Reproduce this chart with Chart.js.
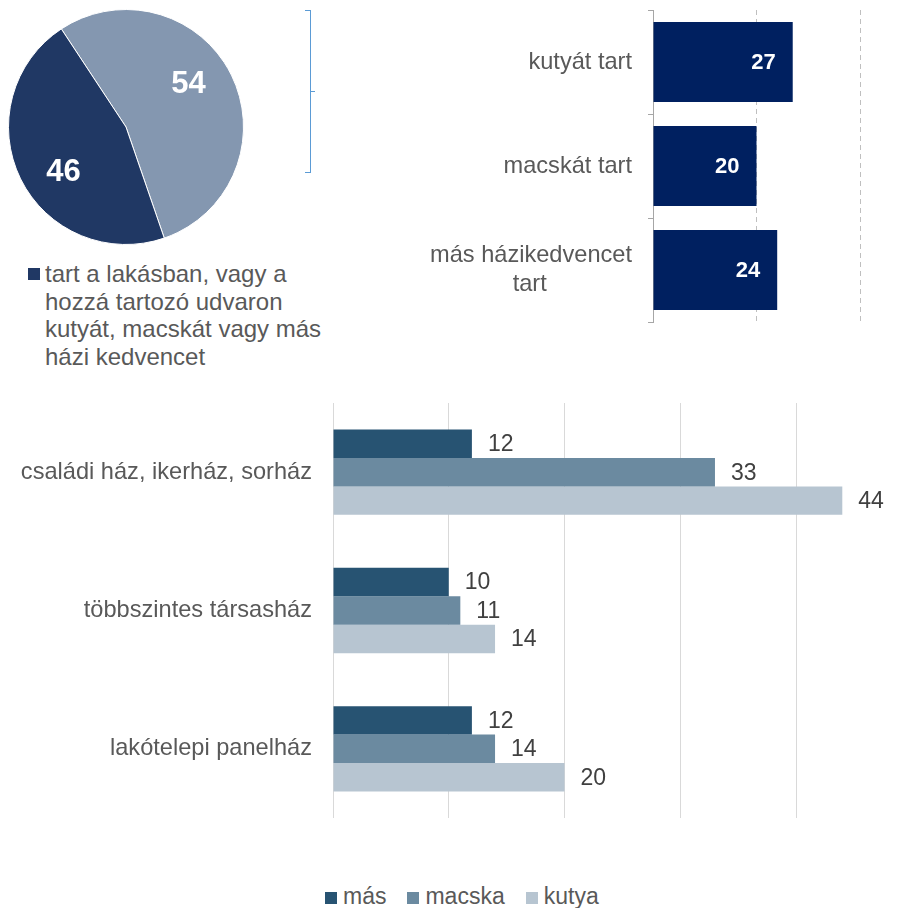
<!DOCTYPE html>
<html lang="hu">
<head>
<meta charset="utf-8">
<title>Háziállat-tartás</title>
<script src="https://cdn.jsdelivr.net/npm/chart.js@4.4.1/dist/chart.umd.min.js"></script>
<style>
  html, body { margin: 0; padding: 0; background: #fff; width: 901px; height: 908px; overflow: hidden; }
  body { position: relative; font-family: 'Liberation Sans', Arial, sans-serif; color: #595959; }
  canvas { position: absolute; }
  .legend { position: absolute; font-size: 23px; line-height: 27.7px; white-space: nowrap; }
  .sq { display: inline-block; width: 12px; height: 12px; }
  .bracket { position: absolute; border-color: #5b9bd5; border-style: solid; border-width: 0; }
</style>
</head>
<body>
<canvas id="pie" width="252" height="254" style="left:0;top:0"></canvas>
<canvas id="pets" width="571" height="330" style="left:330px;top:0"></canvas>
<canvas id="homes" width="901" height="430" style="left:0;top:395px"></canvas>

<!-- zárójel a kör és a sávok között -->
<div class="bracket" style="left:310px;top:10px;height:163px;border-left-width:1.5px"></div>
<div class="bracket" style="left:305px;top:10px;width:5px;border-top-width:1.5px"></div>
<div class="bracket" style="left:305px;top:172px;width:5px;border-top-width:1.5px"></div>
<div class="bracket" style="left:311px;top:91px;width:4px;border-top-width:1.5px"></div>

<div id="pieLegend" class="legend" style="left:28px;top:260px;font-size:24px"></div>
<div id="homeLegend" class="legend" style="left:325px;top:883px;line-height:26px"></div>

<script>
// --- adatok ---
const pieLabels = ['nem tart', 'tart a lakásban, vagy a hozzá tartozó udvaron kutyát, macskát vagy más házi kedvencet'];
const pieValues = [54, 46];
const pieLegendLines = ['tart a lakásban, vagy a', 'hozzá tartozó udvaron', 'kutyát, macskát vagy más', 'házi kedvencet'];

const petLabels = ['kutyát tart', 'macskát tart', ['más házikedvencet', 'tart' + '\u00a0'.repeat(13)]];
const petValues = [27, 20, 24];

const homeLabels = ['családi ház, ikerház, sorház', 'többszintes társasház', 'lakótelepi panelház'];
const seriesNames = ['más', 'macska', 'kutya'];
const masValues = [12, 10, 12];
const macskaValues = [33, 11, 14];
const kutyaValues = [44, 14, 20];

// --- stílus ---
const FONT = "'Liberation Sans', Arial, sans-serif";
const GRAY = '#595959';
const pieColors = ['#8497b0', '#203864'];
const petColor = '#002060';
const seriesColors = ['#275372', '#6b8aa0', '#b7c5d1'];

Chart.defaults.font.family = FONT;
Chart.defaults.color = GRAY;

// a kategóriatengely ne vegyen el helyet a rajzterület tetejéből/aljából
const noPad = s => { s.paddingTop = 0; s.paddingBottom = 0; };

// értékcímkék a sávokon
const barLabels = {
  id: 'barLabels',
  afterDatasetsDraw(chart, args, opts) {
    const { ctx } = chart;
    ctx.save();
    ctx.font = opts.font;
    ctx.fillStyle = opts.color;
    ctx.textBaseline = 'middle';
    chart.data.datasets.forEach((ds, i) => {
      chart.getDatasetMeta(i).data.forEach((bar, j) => {
        const v = ds.data[j];
        if (opts.inside) {
          ctx.textAlign = 'right';
          ctx.fillText(v, bar.x - opts.offset, bar.y + 1);
        } else {
          ctx.textAlign = 'left';
          ctx.fillText(v, bar.x + opts.offset, bar.y + 1);
        }
      });
    });
    ctx.restore();
  },
};

// címkék a körcikkekben
const pieLabelsPlugin = {
  id: 'pieValues',
  afterDatasetsDraw(chart, args, opts) {
    const { ctx } = chart;
    const ds = chart.data.datasets[0];
    ctx.save();
    ctx.font = opts.font;
    ctx.fillStyle = opts.color;
    ctx.textAlign = 'center';
    ctx.textBaseline = 'middle';
    chart.getDatasetMeta(0).data.forEach((arc, i) => {
      const mid = (arc.startAngle + arc.endAngle) / 2 + opts.shift * Math.PI / 180;
      const r = arc.outerRadius * opts.radius;
      ctx.fillText(ds.data[i], arc.x + Math.cos(mid) * r, arc.y + Math.sin(mid) * r + 1);
    });
    ctx.restore();
  },
};

// ── Kör ─────────────────────────────────────────────
new Chart(document.getElementById('pie'), {
  type: 'pie',
  data: {
    labels: pieLabels,
    datasets: [{
      data: pieValues,
      backgroundColor: pieColors,
      borderColor: '#ffffff',
      borderWidth: 1,
      hoverOffset: 0,
    }],
  },
  options: {
    responsive: false,
    animation: false,
    events: [],
    rotation: -33.4,
    layout: { padding: { left: 8, top: 9, right: 8, bottom: 9 } },
    plugins: {
      legend: { display: false },
      tooltip: { enabled: false },
      pieValues: { font: `bold 31px ${FONT}`, color: '#ffffff', radius: 0.65, shift: -9 },
    },
  },
  plugins: [pieLabelsPlugin],
});

// ── Kutya / macska / más ────────────────────────────
new Chart(document.getElementById('pets'), {
  type: 'bar',
  data: {
    labels: petLabels,
    datasets: [{
      data: petValues,
      backgroundColor: petColor,
      barPercentage: 0.77,
      categoryPercentage: 1,
    }],
  },
  options: {
    indexAxis: 'y',
    responsive: false,
    animation: false,
    events: [],
    layout: { padding: { top: 10, right: 41, bottom: 8, left: 0 } },
    plugins: {
      legend: { display: false },
      tooltip: { enabled: false },
      barLabels: { font: `bold 22px ${FONT}`, color: '#ffffff', inside: true, offset: 17 },
    },
    scales: {
      x: {
        min: 0, max: 40,
        ticks: { display: false, stepSize: 20 },
        grid: { color: c => (c.tick.value === 0 ? 'rgba(0,0,0,0)' : '#bfbfbf'), drawTicks: false },
        border: { display: false, dash: [5, 4] },
        afterFit: s => { s.height = 0; },
      },
      y: {
        ticks: { color: GRAY, font: { size: 23.6, lineHeight: 1.2 }, padding: 16 },
        grid: { drawOnChartArea: false, drawTicks: true, tickLength: 5, color: '#a6a6a6', offset: true },
        border: { display: true, color: '#a6a6a6' },
        afterFit: s => { s.width = 323; noPad(s); },
      },
    },
  },
  plugins: [barLabels],
});

// ── Lakástípus szerint ──────────────────────────────
const homeSeries = [masValues, macskaValues, kutyaValues];
new Chart(document.getElementById('homes'), {
  type: 'bar',
  data: {
    labels: homeLabels,
    datasets: seriesNames.map((name, i) => ({
      label: name,
      data: homeSeries[i],
      backgroundColor: seriesColors[i],
      barPercentage: 1,
      categoryPercentage: 0.617,
    })),
  },
  options: {
    indexAxis: 'y',
    responsive: false,
    animation: false,
    events: [],
    layout: { padding: { top: 8, right: 12.4, bottom: 7, left: 0 } },
    plugins: {
      legend: { display: false },
      tooltip: { enabled: false },
      barLabels: { font: `23px ${FONT}`, color: '#404040', inside: false, offset: 16 },
    },
    scales: {
      x: {
        z: 1,
        min: 0, max: 48,
        ticks: { display: false, stepSize: 10, includeBounds: false },
        grid: { color: 'rgba(0,0,0,0.15)', drawTicks: false },
        border: { display: false },
        afterBuildTicks: s => { s.ticks = s.ticks.filter(t => t.value % 10 === 0); },
        afterFit: s => { s.height = 0; },
      },
      y: {
        ticks: { color: GRAY, font: { size: 23.6 }, padding: 21 },
        grid: { display: false, drawTicks: false },
        border: { display: false },
        afterFit: s => { s.width = 333; noPad(s); },
      },
    },
  },
  plugins: [barLabels],
});

// ── Jelmagyarázatok ─────────────────────────────────
document.getElementById('pieLegend').innerHTML =
  `<span class="sq" style="background:${pieColors[1]};position:absolute;left:0;top:8px"></span>` +
  `<div style="margin-left:17px">${pieLegendLines.join('<br>')}</div>`;

document.getElementById('homeLegend').innerHTML = seriesNames.map((name, i) =>
  `<span style="margin-right:${i < seriesNames.length - 1 ? 21 : 0}px">` +
  `<span class="sq" style="background:${seriesColors[i]};margin-right:6px"></span>${name}</span>`
).join('');
</script>
</body>
</html>
